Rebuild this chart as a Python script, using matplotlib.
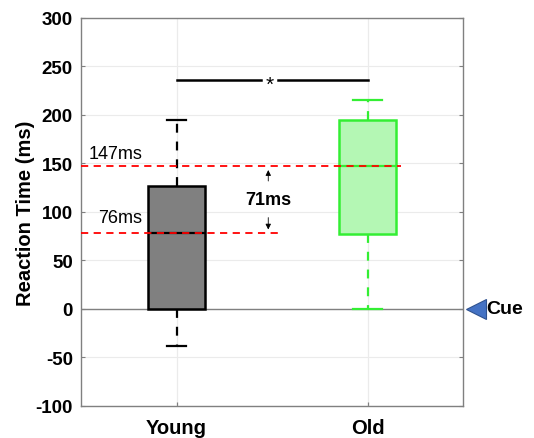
import matplotlib
matplotlib.use("Agg")
import matplotlib.pyplot as plt

# ---------- data ----------
groups = ["Young", "Old"]
q1 = [0, 77]
med = [78, 147]
q3 = [127, 195]
wlo = [-38, 0]
whi = [195, 215]
mean_old, mean_young = 147, 78
sig_y = 236
yticks = [-100, -50, 0, 50, 100, 150, 200, 250, 300]

plt.rcParams["font.family"] = ["Liberation Sans", "DejaVu Sans"]
plt.rcParams["axes.unicode_minus"] = False

fig = plt.figure(figsize=(5.34, 4.39), dpi=100)
ax = fig.add_axes([0.152, 0.073, 0.715, 0.884])

ax.set_xlim(0.5, 2.5)
ax.set_ylim(-100, 300)
ax.set_yticks(yticks)
ax.set_xticks([1, 2])
ax.set_xticklabels(groups, fontsize=14.5, fontweight="bold")
for lab in ax.get_yticklabels():
    lab.set_fontweight("bold"); lab.set_fontsize(13.5)
ax.set_ylabel("Reaction Time (ms)", fontsize=14.5, fontweight="bold", labelpad=0)
ax.grid(color="#ebebeb", lw=0.8)
ax.set_axisbelow(True)
ax.tick_params(direction="in", length=3, color="#808080", right=True)
ax.tick_params(axis="y", pad=6)
ax.tick_params(axis="x", pad=9)
for s in ax.spines.values():
    s.set_color("#808080"); s.set_linewidth(1.0)
ax.axhline(0, color="#808080", lw=1.0, zorder=1)

stats = [dict(q1=q1[i], med=med[i], q3=q3[i], whislo=wlo[i], whishi=whi[i],
              fliers=[], label=groups[i]) for i in range(2)]
styles = [("#808080", "black", 0.10), ("#b4f7b4", "#33ee33", 0.15)]
for i, st in enumerate(stats):
    fc, ec, cw = styles[i]
    ax.bxp([st], positions=[i + 1], widths=0.30, patch_artist=True, showfliers=False,
           boxprops=dict(facecolor=fc, edgecolor=ec, lw=1.8),
           medianprops=dict(color=ec, lw=1.6),
           whiskerprops=dict(color=ec, lw=1.6, ls=(0, (4, 4))),
           capprops=dict(color=ec, lw=1.6), capwidths=cw)

# mean reference lines
ax.plot([0.5, 2.175], [mean_old, mean_old], color="red", ls=(0, (4, 3)), lw=1.3, zorder=5)
ax.plot([0.5, 1.53], [mean_young, mean_young], color="red", ls=(0, (4, 3)), lw=1.3, zorder=5)
ax.text(0.54, 160, "147ms", fontsize=13, va="center", ha="left")
ax.text(0.59, 94, "76ms", fontsize=13, va="center", ha="left")

# difference arrows
ax.annotate("", xy=(1.48, 146), xytext=(1.48, 129),
            arrowprops=dict(arrowstyle="-|>", color="black", lw=0.6, mutation_scale=8))
ax.annotate("", xy=(1.48, 79), xytext=(1.48, 97),
            arrowprops=dict(arrowstyle="-|>", color="black", lw=0.6, mutation_scale=8))
ax.text(1.48, 113, "71ms", fontsize=13, fontweight="bold", ha="center", va="center")

# significance bar
ax.plot([1.0, 1.44], [sig_y, sig_y], color="black", lw=1.8)
ax.plot([1.53, 2.0], [sig_y, sig_y], color="black", lw=1.8)
ax.text(1.487, sig_y - 5, "*", fontsize=15, ha="center", va="center")

# cue marker
ax.plot([2.57], [0], marker="<", ms=14, color="#4472c4", mec="#2f528f", mew=0.8, clip_on=False)
ax.text(2.62, 0, "Cue", fontsize=14, fontweight="bold", ha="left", va="center", clip_on=False)

fig.savefig("out.png", dpi=100)
